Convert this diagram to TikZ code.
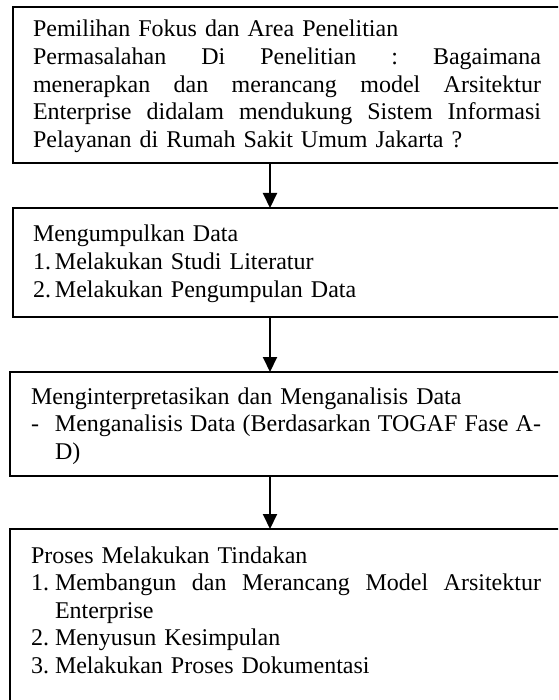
\documentclass[tikz,border=0pt]{standalone}
\usepackage{fontspec}
\setmainfont{Liberation Serif}
\usetikzlibrary{arrows.meta}
\newcommand{\jline}[2]{\makebox[#1][l]{#2}}
\begin{document}
\begin{tikzpicture}[x=1pt,y=-1pt,
  box/.style={draw=black,line width=2pt,inner sep=0pt,outer sep=0pt,anchor=north west,minimum width=#1},
  box/.default=580pt,
  txt/.style={anchor=base west,inner sep=0pt,outer sep=0pt,align=left,text width=#1,
    font=\fontsize{24}{27.6}\selectfont},
  arr/.style={line width=2pt,-{Triangle[width=14pt,length=15pt]}}]
\useasboundingbox (0,0) rectangle (558,700);
\clip (0,0) rectangle (558,700);
\fill[white] (0,0) rectangle (558,700);
% boxes
\node[box=580pt,minimum height=156pt] (b1) at (13,7) {};
\node[box=580pt,minimum height=109pt] (b2) at (13,208) {};
\node[box=583pt,minimum height=104pt] (b3) at (10,372) {};
\node[box=583pt,minimum height=220pt] (b4) at (10,529) {};
% texts
\node[txt=508pt] (t1) at (33,37) {Pemilihan Fokus dan Area Penelitian\\
\jline{508pt}{Permasalahan\hfill Di\hfill Penelitian\hfill :\hfill Bagaimana}\\
\jline{508pt}{menerapkan\hfill dan\hfill merancang\hfill model\hfill Arsitektur}\\
\jline{508pt}{Enterprise\hfill didalam\hfill mendukung\hfill Sistem\hfill Informasi}\\
Pelayanan di Rumah Sakit Umum Jakarta ?};
\node[txt=508pt] (t2) at (33,242) {Mengumpulkan Data\\
\makebox[22pt][l]{1.}Melakukan Studi Literatur\\
\makebox[22pt][l]{2.}Melakukan Pengumpulan Data};
\node[txt=510pt] (t3) at (31,404) {Menginterpretasikan dan Menganalisis Data\\
\makebox[24pt][l]{-}\jline{486pt}{Menganalisis\hfill Data\hfill (Berdasarkan\hfill TOGAF\hfill Fase\hfill A-}\\
\hspace*{24pt}D)};
\node[txt=510pt] (t4) at (31,563) {Proses Melakukan Tindakan\\
\makebox[24pt][l]{1.}\jline{486pt}{Membangun\hfill dan\hfill Merancang\hfill Model\hfill Arsitektur}\\
\hspace*{24pt}Enterprise\\
\makebox[24pt][l]{2.}Menyusun Kesimpulan\\
\makebox[24pt][l]{3.}Melakukan Proses Dokumentasi};
% connectors
\coordinate (ax) at (270,0);
\draw[arr] (b1.south -| ax) -- (b2.north -| ax);
\draw[arr] (b2.south -| ax) -- (b3.north -| ax);
\draw[arr] (b3.south -| ax) -- (b4.north -| ax);
\end{tikzpicture}
\end{document}
